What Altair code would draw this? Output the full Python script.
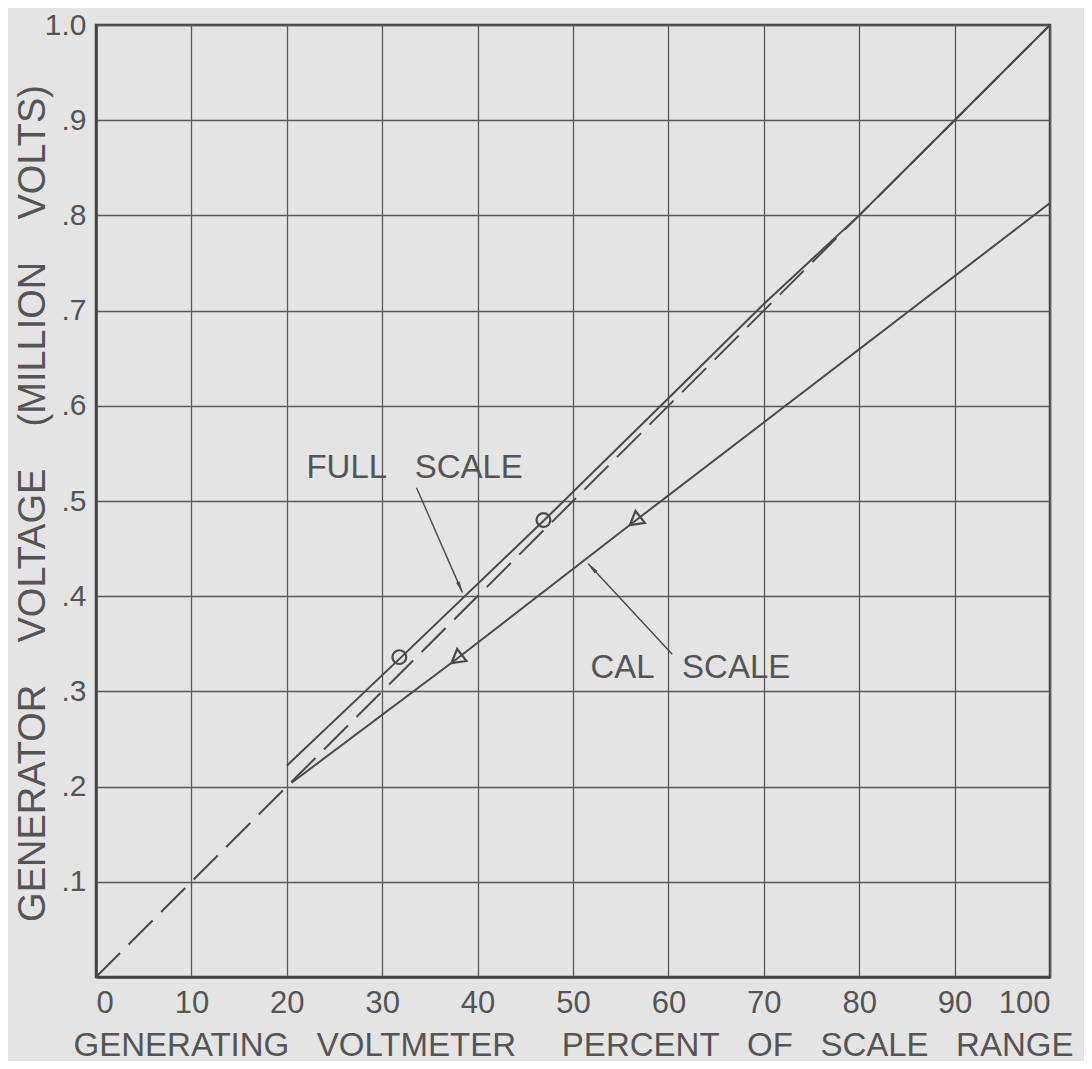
import math
import altair as alt
import pandas as pd

# ---- values ----
x_ticks = [0, 10, 20, 30, 40, 50, 60, 70, 80, 90, 100]
y_ticks = [0.0, 0.1, 0.2, 0.3, 0.4, 0.5, 0.6, 0.7, 0.8, 0.9, 1.0]

diag_x = [0, 100]
diag_y = [0.0, 1.0]

full_x = [20, 32, 47, 60, 70, 80, 90, 100]
full_y = [0.222, 0.336, 0.480, 0.608, 0.707, 0.800, 0.900, 1.000]

cal_x = [20.5, 37.8, 56.5, 100]
cal_y = [0.204, 0.334, 0.479, 0.813]

circ_x = [31.8, 46.9]
circ_y = [0.336, 0.480]
tri_x = [37.8, 56.5]
tri_y = [0.334, 0.479]

labels = ["FULL\u00a0\u00a0\u00a0SCALE", "CAL\u00a0\u00a0\u00a0SCALE"]
label_x = [33.4, 62.3]
label_y = [0.535, 0.3245]

arrow_x = [33.6, 60.4]
arrow_y = [0.514, 0.339]
arrow_x2 = [38.4, 51.6]
arrow_y2 = [0.404, 0.434]

# ---- layout / style ----
W, H = 954, 952
PX_X = W / 100.0
PX_Y = H / 1.0
INK = "#4a4a4a"
TXT = "#555555"
BG = "#e4e4e4"
FONT = "Liberation Sans"
NB = "\u00a0"

# arrowhead angles and centres (wedge symbol points up at angle 0)
ang, hx, hy = [], [], []
for x0, y0, x1, y1 in zip(arrow_x, arrow_y, arrow_x2, arrow_y2):
    dx = (x1 - x0) * PX_X
    dy = -(y1 - y0) * PX_Y
    a = math.degrees(math.atan2(dx, -dy)) % 360
    ang.append(a)
    L = math.hypot(dx, dy)
    back = 7.0
    hx.append(x1 - (dx / L) * back / PX_X)
    hy.append(y1 + (dy / L) * back / PX_Y)

diag_df = pd.DataFrame({"x": diag_x, "y": diag_y})
full_df = pd.DataFrame({"x": full_x, "y": full_y})
cal_df = pd.DataFrame({"x": cal_x, "y": cal_y})
circ_df = pd.DataFrame({"x": circ_x, "y": circ_y})
tri_df = pd.DataFrame({"x": tri_x, "y": tri_y})
lab_df = pd.DataFrame({"x": label_x, "y": label_y, "t": labels})
arr_df = pd.DataFrame({"x": arrow_x, "y": arrow_y, "x2": arrow_x2, "y2": arrow_y2})
head_df = pd.DataFrame({"x": hx, "y": hy, "a": ang})

x_title = ("GENERATING" + NB * 3 + "VOLTMETER" + NB * 5 + "PERCENT" + NB * 3 +
           "OF" + NB * 3 + "SCALE" + NB * 3 + "RANGE")
y_title = "GENERATOR" + NB * 4 + "VOLTAGE" + NB * 4 + "(MILLION" + NB * 4 + "VOLTS)"

xs = alt.Scale(domain=[0, 100], nice=False, zero=False)
ys = alt.Scale(domain=[0, 1.0], nice=False, zero=False)

x_axis = alt.Axis(values=x_ticks, grid=True, ticks=False, labelPadding=11,
                  labelFontSize=31, labelColor=TXT, labelFont=FONT,
                  title=x_title, titleFontSize=33, titleFontWeight="normal",
                  titleColor=TXT, titleFont=FONT, titleY=78,
                  titleBaseline="alphabetic")
y_axis = alt.Axis(values=y_ticks, grid=True, ticks=False, labelPadding=10,
                  labelFontSize=30, labelColor=TXT, labelFont=FONT,
                  labelBaseline="middle",
                  labelExpr="datum.value == 0 ? '' : (datum.value >= 1 ? '1.0' : '.' + format(round(datum.value*10), 'd'))",
                  title=y_title, titleFontSize=38, titleFontWeight="normal",
                  titleColor=TXT, titleFont=FONT, titleX=-52, titleY=478,
                  titleAngle=270, titleBaseline="alphabetic", titleAlign="center")

base_x = alt.X("x:Q", scale=xs, axis=x_axis)
base_y = alt.Y("y:Q", scale=ys, axis=y_axis)

diag = alt.Chart(diag_df).mark_line(color=INK, strokeWidth=2, strokeDash=[34, 12]).encode(
    x=base_x, y=base_y)
full = alt.Chart(full_df).mark_line(color=INK, strokeWidth=2).encode(
    x="x:Q", y="y:Q")
cal = alt.Chart(cal_df).mark_line(color=INK, strokeWidth=2).encode(
    x="x:Q", y="y:Q")
circ = alt.Chart(circ_df).mark_point(shape="circle", size=190, filled=False,
                                     color=INK, strokeWidth=2.2, opacity=1).encode(
    x="x:Q", y="y:Q")
tri = alt.Chart(tri_df).mark_point(shape="triangle-down", size=230, filled=False,
                                   color=INK, strokeWidth=2.2, opacity=1, angle=52).encode(
    x="x:Q", y="y:Q")
arrows = alt.Chart(arr_df).mark_rule(color=INK, strokeWidth=1.4).encode(
    x="x:Q", y="y:Q", x2="x2:Q", y2="y2:Q")
heads = alt.Chart(head_df).mark_point(shape="wedge", size=220, filled=True,
                                      color=INK, opacity=1).encode(
    x="x:Q", y="y:Q", angle=alt.Angle("a:Q", scale=None))
texts = alt.Chart(lab_df).mark_text(font=FONT, fontSize=33, color=TXT,
                                    align="center", baseline="middle").encode(
    x="x:Q", y="y:Q", text="t:N")

chart = alt.layer(diag, full, cal, circ, tri, arrows, heads, texts).properties(
    width=W, height=H,
    autosize=alt.AutoSizeParams(type="none"),
    padding={"left": 88, "top": 17, "right": 34, "bottom": 84},
    background=BG,
).configure_view(
    stroke="#444444", strokeWidth=2.5, fill=BG
).configure_axis(
    gridColor="#5a5a5a", gridWidth=1.3, gridOpacity=1,
    domainColor="#444444", domainWidth=2.5
)

chart.save("out.html", embed_options={"renderer": "svg", "actions": False})
